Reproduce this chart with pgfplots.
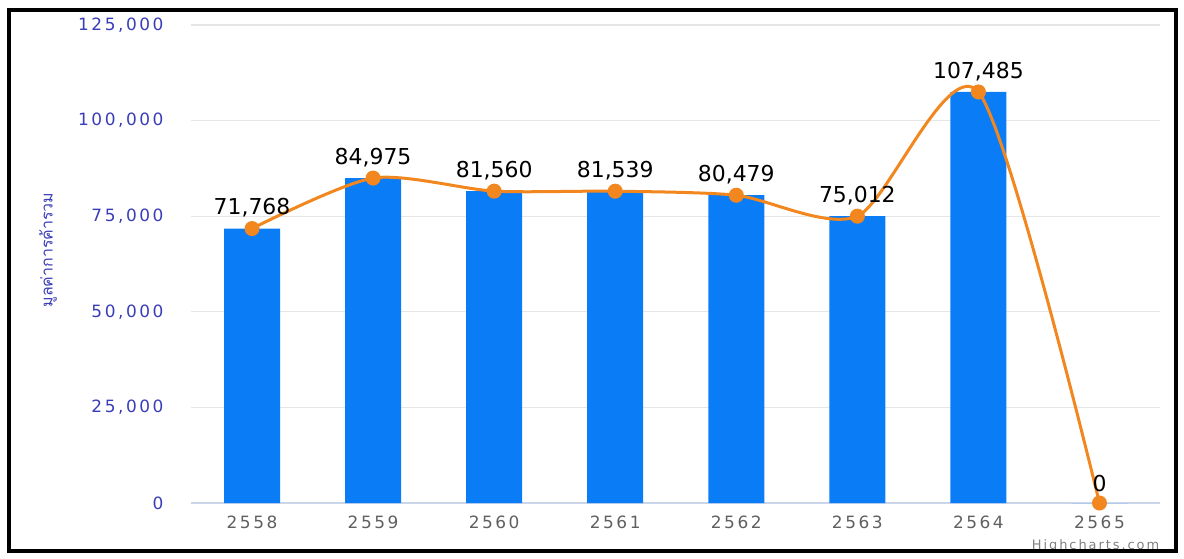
\documentclass[border=0pt]{standalone}
\usepackage{fontspec}
\usepackage{pgfplots}
\pgfplotsset{compat=1.18}
\usepackage{pgfplotstable}
\setmainfont{DejaVu Sans}
\newfontfamily\tickfont[LetterSpace=15]{DejaVu Sans}
\newfontfamily\labfont{DejaVu Sans}
\newfontfamily\thaifont[Script=Thai]{Loma}

\definecolor{barblue}{HTML}{0A7CF6}
\definecolor{lineorange}{HTML}{F2871F}
\definecolor{ytickcol}{HTML}{3A3DB8}
\definecolor{xtickcol}{HTML}{606060}
\definecolor{gridcol}{HTML}{E6E6E6}
\definecolor{axiscol}{HTML}{CCD6EB}

% year index, value, label
\pgfplotstableread{
x y lab
0 71768 {71,768}
1 84975 {84,975}
2 81560 {81,560}
3 81539 {81,539}
4 80479 {80,479}
5 75012 {75,012}
6 107485 {107,485}
7 0 {0}
}\trade

\begin{document}
\begin{tikzpicture}[x=1bp,y=1bp]
\useasboundingbox (-95.75,-27.5) rectangle (496.25,251.5);
\begin{axis}[
    at={(0,0)}, anchor=south west,
    scale only axis,
    width=484.25bp, height=239bp,
    xmin=-0.5, xmax=7.5,
    ymin=0, ymax=125000,
    scaled y ticks=false,
    xtick={0,...,7},
    xticklabels={2558,2559,2560,2561,2562,2563,2564,2565},
    ytick={0,25000,50000,75000,100000,125000},
    yticklabels={0,{25,000},{50,000},{75,000},{100,000},{125,000}},
    xticklabel style={font=\tickfont\fontsize{8.5}{9}\selectfont, text=xtickcol, yshift=-3bp},
    yticklabel style={font=\tickfont\fontsize{8.5}{9}\selectfont, text=ytickcol, xshift=-10.5bp},
    major tick length=0pt,
    axis x line*=bottom,
    axis y line*=left,
    x axis line style={draw=axiscol, line width=0.6bp, -},
    y axis line style={draw=none},
    ymajorgrids=true,
    grid style={gridcol, line width=0.6bp},
    clip=false,
]
\addplot[ybar, bar width=28bp, fill=barblue, draw=none]
    table[x=x, y=y] {\trade};
\addplot[lineorange, line width=1.5bp, smooth, tension=0.45,
    mark=*, mark size=3bp, mark options={fill=lineorange, draw=lineorange},
    nodes near coords, point meta=explicit symbolic,
    every node near coord/.append style={font=\labfont\fontsize{11}{13}\selectfont, text=black, anchor=south, yshift=1.5bp}]
    table[x=x, y=y, meta=lab] {\trade};
\end{axis}
\node[rotate=90, text=ytickcol, font=\thaifont\fontsize{8}{9}\selectfont] at (-71.75,126.5) {มูลค่าการค้ารวม};
\node[anchor=south east, text=xtickcol!80, font=\tickfont\fontsize{6.5}{7}\selectfont, inner sep=0pt] at (484,-25) {Highcharts.com};
\draw[black, line width=2bp] (-91.25,-24) rectangle (492.25,246.5);
\end{tikzpicture}
\end{document}
